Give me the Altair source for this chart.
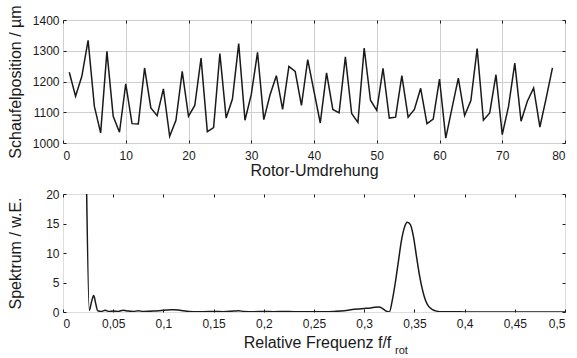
import altair as alt
import pandas as pd

# ---------------- data ----------------
rev = list(range(1, 79))
pos = [1230, 1152, 1217, 1334, 1119, 1033, 1298, 1087, 1035, 1192,
       1063, 1062, 1244, 1114, 1089, 1176, 1022, 1074, 1233, 1087,
       1122, 1276, 1037, 1050, 1291, 1081, 1143, 1323, 1074, 1157,
       1295, 1076, 1157, 1219, 1109, 1249, 1233, 1122, 1271, 1168,
       1065, 1228, 1109, 1098, 1280, 1096, 1067, 1309, 1139, 1106,
       1243, 1081, 1084, 1219, 1084, 1109, 1178, 1063, 1078, 1208,
       1016, 1114, 1211, 1089, 1138, 1307, 1074, 1098, 1222, 1027,
       1119, 1260, 1071, 1136, 1179, 1052, 1146, 1244]

freq = [0.0234, 0.0262, 0.0285, 0.0306, 0.0325, 0.0346, 0.038, 0.042, 0.046,
        0.05, 0.055, 0.06, 0.065, 0.07, 0.075, 0.08, 0.09, 0.1, 0.105, 0.11,
        0.115, 0.12, 0.13, 0.14, 0.15, 0.16, 0.17, 0.175, 0.18, 0.19, 0.2,
        0.21, 0.22, 0.23, 0.24, 0.25, 0.26, 0.27, 0.28, 0.29, 0.30, 0.305,
        0.31, 0.315, 0.318, 0.322, 0.325, 0.328, 0.331, 0.334, 0.337, 0.340,
        0.343, 0.346, 0.349, 0.352, 0.355, 0.358, 0.361, 0.364, 0.368, 0.372,
        0.378, 0.39, 0.40, 0.42, 0.45, 0.48, 0.5]
amp = [22, 0.3, 1.8, 2.8, 1.5, 0.2, 0.1, 0.3, 0.1,
       0.15, 0.1, 0.3, 0.15, 0.1, 0.2, 0.1, 0.15, 0.3, 0.35, 0.4,
       0.35, 0.2, 0.05, 0.05, 0.1, 0.05, 0.15, 0.2, 0.1, 0.05, 0.1,
       0.05, 0.1, 0.05, 0.05, 0.05, 0.05, 0.1, 0.2, 0.45, 0.6, 0.65,
       0.8, 0.85, 0.6, 0.15, 0.0, 2.0, 5.0, 8.5, 12.0, 14.3,
       15.2, 14.8, 12.8, 9.5, 6.3, 3.8, 2.0, 1.0, 0.4, 0.15,
       0.05, 0.03, 0.02, 0.02, 0.01, 0.01, 0.01]

x_ticks_top = [0, 10, 20, 30, 40, 50, 60, 70, 80]
y_ticks_top = [1000, 1100, 1200, 1300, 1400]
x_ticks_bot = [0, 0.05, 0.1, 0.15, 0.2, 0.25, 0.3, 0.35, 0.4, 0.45, 0.5]
y_ticks_bot = [0, 5, 10, 15, 20]

df_top = pd.DataFrame({"rev": rev, "pos": pos})
df_bot = pd.DataFrame({"f": freq, "a": amp})

FONT = "Liberation Sans"
INK = "#1a1a1a"
TS = 3  # inward tick length

def main_axis(ticks, title, orient, grid, label_expr, **kw):
    args = dict(values=ticks, title=title, orient=orient, grid=grid,
                gridColor="#cfcfcf", gridWidth=1, domain=False,
                tickSize=TS, offset=-TS, tickColor=INK, tickWidth=1,
                labelColor=INK, labelFont=FONT, labelFontSize=12,
                titleFont=FONT, titleFontSize=16, titleFontWeight="normal",
                titleColor=INK, labelExpr=label_expr)
    args.update(kw)
    return alt.Axis(**args)

def mirror_axis(ticks, orient):
    return alt.Axis(values=ticks, title=None, orient=orient, grid=False,
                    domain=False, labels=False, tickSize=TS, offset=-TS,
                    tickColor=INK, tickWidth=1)

plain = "toString(datum.value)"
comma = "replace(toString(datum.value), '.', ',')"

# ---------------- top panel ----------------
xs_top = alt.Scale(domain=[0, 80], nice=False)
ys_top = alt.Scale(domain=[1000, 1400], nice=False)

top_main = alt.Chart(df_top).mark_line(color=INK, strokeWidth=1.5).encode(
    x=alt.X("rev:Q", scale=xs_top,
            axis=main_axis(x_ticks_top, "Rotor-Umdrehung", "bottom", True, plain,
                           labelPadding=7, titleX=251, titleY=35,
                           titleAlign="center", titleBaseline="alphabetic")),
    y=alt.Y("pos:Q", scale=ys_top,
            axis=main_axis(y_ticks_top, "Schaufelposition / µm", "left", True, plain,
                           labelPadding=4, titlePadding=9)),
)
top_mirror = alt.Chart(df_top).mark_line(opacity=0).encode(
    x=alt.X("rev:Q", scale=xs_top, axis=mirror_axis(x_ticks_top, "top")),
    y=alt.Y("pos:Q", scale=ys_top, axis=mirror_axis(y_ticks_top, "right")),
)
top = alt.layer(top_mirror, top_main).resolve_axis(
    x="independent", y="independent").properties(width=502, height=123)

# ---------------- bottom panel ----------------
xs_bot = alt.Scale(domain=[0, 0.5], nice=False)
ys_bot = alt.Scale(domain=[0, 20], nice=False)

bot_main = alt.Chart(df_bot).mark_line(color=INK, strokeWidth=1.5,
                                       interpolate="monotone", clip=True).encode(
    x=alt.X("f:Q", scale=xs_bot,
            axis=main_axis(x_ticks_bot, "Relative Frequenz f/f", "bottom", False,
                           comma, labelPadding=6, titleX=254, titleY=38,
                           titleAlign="center", titleBaseline="alphabetic")),
    y=alt.Y("a:Q", scale=ys_bot,
            axis=main_axis(y_ticks_bot, "Spektrum / w.E.", "left", False, plain,
                           labelPadding=4, titlePadding=22)),
)
bot_mirror = alt.Chart(df_bot).mark_line(opacity=0).encode(
    x=alt.X("f:Q", scale=xs_bot, axis=mirror_axis(x_ticks_bot, "top")),
    y=alt.Y("a:Q", scale=ys_bot, axis=mirror_axis(y_ticks_bot, "right")),
)
sub = alt.Chart(pd.DataFrame({"t": ["rot"]})).mark_text(
    font=FONT, fontSize=11, color=INK, align="left", baseline="alphabetic").encode(
    text="t:N", x=alt.value(332), y=alt.value(160))

bot = alt.layer(bot_mirror, bot_main, sub).resolve_axis(
    x="independent", y="independent").properties(width=502, height=118)

chart = alt.vconcat(top, bot, spacing=2).properties(
    padding={"left": 6, "top": 4, "right": 0, "bottom": 0}
).configure_view(stroke=INK, strokeWidth=1).configure(background="white")

chart.save("out.html", embed_options={"renderer": "svg", "actions": False})
